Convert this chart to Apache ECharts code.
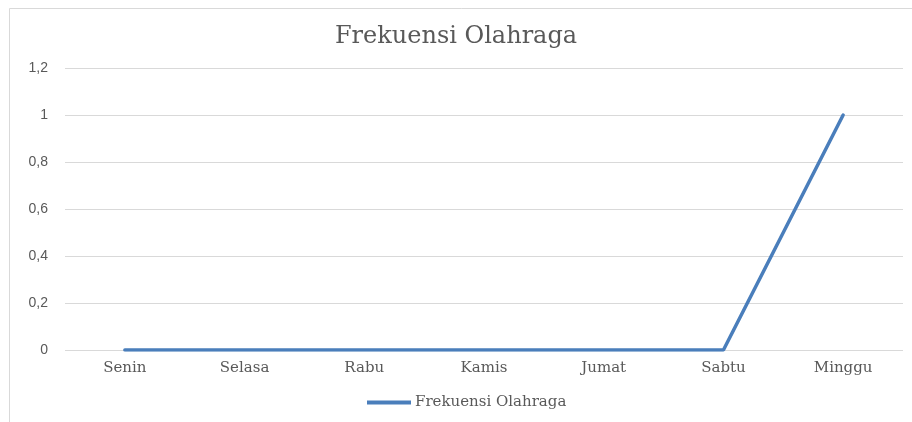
<!DOCTYPE html>
<html><head><meta charset="utf-8">
<script src="https://cdn.jsdelivr.net/npm/echarts@6/dist/echarts.min.js"></script>
<style>html,body{margin:0;padding:0;background:#fff}#c{width:912px;height:422px}</style>
</head><body><div id="c"></div>
<script>
const title = "Frekuensi Olahraga";
const categories = ["Senin","Selasa","Rabu","Kamis","Jumat","Sabtu","Minggu"];
const seriesName = "Frekuensi Olahraga";
const values = [0,0,0,0,0,0,1];
const yMin = 0, yMax = 1.2, yStep = 0.2;

const chart = echarts.init(document.getElementById('c'), null, {renderer:'canvas'});
chart.setOption({
  animation:false,
  backgroundColor:'#fff',
  graphic:[{type:'rect', shape:{x:9.5,y:8.5,width:920,height:430}, style:{fill:'none',stroke:'#d9d9d9',lineWidth:1}, silent:true}],
  title:{text:title,left:'center',top:20,textStyle:{fontFamily:'DejaVu Serif',fontSize:24,fontWeight:'normal',color:'#595959'}},
  grid:{left:65,right:9,top:68,bottom:72},
  legend:{bottom:12,left:367,padding:0,itemWidth:44,itemHeight:4,itemGap:4,icon:'rect',
    textStyle:{fontFamily:'DejaVu Serif',fontSize:15,color:'#595959',padding:[0,0,0,-1]},
    data:[{name:seriesName,icon:'rect'}]},
  xAxis:{type:'category',data:categories,boundaryGap:true,
    axisLine:{show:false},axisTick:{show:false},
    axisLabel:{fontFamily:'DejaVu Serif',fontSize:15,color:'#595959',margin:11}},
  yAxis:{type:'value',min:yMin,max:yMax,interval:yStep,
    axisLine:{show:false},axisTick:{show:false},
    splitLine:{lineStyle:{color:'#d9d9d9',width:1}},
    axisLabel:{fontFamily:'Liberation Sans',fontSize:14,color:'#595959',margin:17,
      formatter:v=>String(Math.round(v*10)/10).replace('.',',')}},
  series:[{name:seriesName,type:'line',data:values,symbol:'none',
    lineStyle:{color:'#4a7ebb',width:3.5,cap:'round'},itemStyle:{color:'#4a7ebb'}}]
});
</script></body></html>
